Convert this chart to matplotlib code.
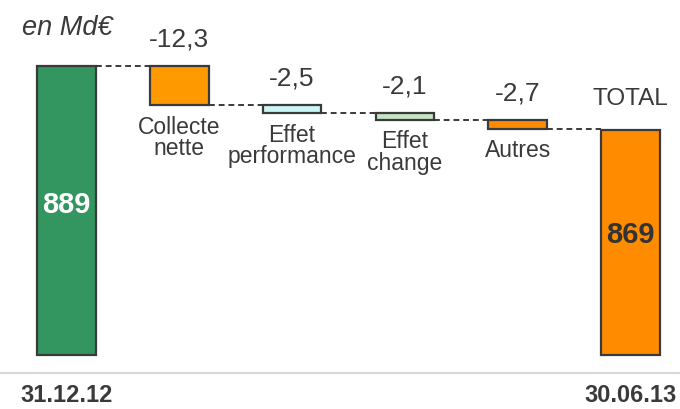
import matplotlib
matplotlib.use("Agg")
import matplotlib.pyplot as plt
from matplotlib.lines import Line2D

categories = ["31.12.12", "Collecte\nnette", "Effet\nperformance", "Effet\nchange", "Autres", "TOTAL"]
start_value = 889
deltas = [-12.3, -2.5, -2.1, -2.7]
total_value = 869
delta_labels = ["-12,3", "-2,5", "-2,1", "-2,7"]
date_labels = ["31.12.12", "30.06.13"]

FONT = ["Liberation Sans Narrow", "Liberation Sans", "DejaVu Sans"]
TXT = "#3a3a3a"
EDGE = "#3a3a3a"
colors = ["#33955f", "#ff9900", "#ccf5f5", "#c4e4c4", "#ff8c00", "#ff8c00"]

base = 798.7
fig = plt.figure(figsize=(6.8, 4.09), dpi=100)
ax = fig.add_axes([0, 0, 1, 1])
ax.set_xlim(-0.5895, 5.439)
ax.set_ylim(781.8, 909.6)
ax.axis("off")
w = 0.52

# start bar
ax.bar(0, start_value - base, bottom=base, width=w, color=colors[0], edgecolor=EDGE, linewidth=1.6)
level = start_value
levels = [level]
for i, d in enumerate(deltas, start=1):
    new = level + d
    ax.bar(i, level - new, bottom=new, width=w, color=colors[i], edgecolor=EDGE, linewidth=1.6)
    level = new
    levels.append(level)
ax.bar(5, total_value - base, bottom=base, width=w, color=colors[5], edgecolor=EDGE, linewidth=1.6)

# connectors
for i, lv in enumerate(levels):
    ax.plot([i + w / 2, i + 1 - w / 2], [lv, lv], ls=(0, (3, 2)), color=EDGE, lw=1.4)

# delta labels
for i, (d, lab) in enumerate(zip(deltas, delta_labels), start=1):
    top = levels[i - 1]
    ax.text(i, top + 4.6, lab, ha="center", va="bottom", fontsize=19, color=TXT, family=FONT)
    ax.text(i, levels[i] - 3.2, categories[i], ha="center", va="top", fontsize=16.5,
            color=TXT, family=FONT, linespacing=0.92)

ax.text(5, total_value + 6.3, "TOTAL", ha="center", va="bottom", fontsize=17.5, color=TXT, family=FONT)
ax.text(0, 845.6, str(start_value), ha="center", va="center", fontsize=21, color="white",
        family=FONT, fontweight="bold")
ax.text(5, 836.2, str(total_value), ha="center", va="center", fontsize=21, color="#333333",
        family=FONT, fontweight="bold")

ax.text(0, 785.9, date_labels[0], ha="center", va="center", fontsize=17, color=TXT, family=FONT,
        fontweight="bold")
ax.text(5, 785.9, date_labels[1], ha="center", va="center", fontsize=17, color=TXT, family=FONT,
        fontweight="bold")

fig.text(22 / 680, 1 - 28 / 409, "en Md€", ha="left", va="center", fontsize=19.5, style="italic",
         color=TXT, family=["Liberation Sans", "DejaVu Sans"])

fig.add_artist(Line2D([0, 1], [1 - 373 / 409, 1 - 373 / 409], color="#d8d8d8", lw=1.5))

fig.savefig("out.png", dpi=100)
